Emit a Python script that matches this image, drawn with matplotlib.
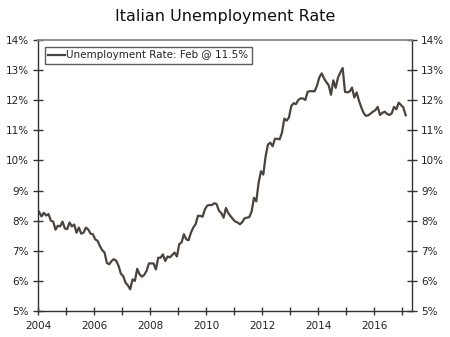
import numpy as np
import matplotlib
matplotlib.use("Agg")
import matplotlib.pyplot as plt
from matplotlib.ticker import MultipleLocator, FuncFormatter

# monthly unemployment rate, Jan 2004 .. Feb 2017 (%)
rate_2004 = [8.29, 8.14, 8.26, 8.17, 8.22, 8.00, 7.97, 7.70, 7.83, 7.81, 7.97, 7.74]
rate_2005 = [7.72, 7.94, 7.81, 7.87, 7.60, 7.77, 7.57, 7.60, 7.77, 7.71, 7.57, 7.55]
rate_2006 = [7.38, 7.33, 7.16, 7.02, 6.94, 6.60, 6.55, 6.66, 6.72, 6.67, 6.50, 6.24]
rate_2007 = [6.16, 5.94, 5.85, 5.72, 6.05, 6.00, 6.40, 6.22, 6.14, 6.20, 6.33, 6.58]
rate_2008 = [6.58, 6.58, 6.38, 6.77, 6.77, 6.88, 6.66, 6.81, 6.78, 6.86, 6.94, 6.81]
rate_2009 = [7.22, 7.28, 7.55, 7.38, 7.35, 7.60, 7.77, 7.88, 8.16, 8.16, 8.13, 8.38]
rate_2010 = [8.50, 8.52, 8.52, 8.58, 8.55, 8.33, 8.25, 8.10, 8.42, 8.25, 8.15, 8.05]
rate_2011 = [7.97, 7.94, 7.88, 7.95, 8.08, 8.10, 8.12, 8.30, 8.76, 8.64, 9.26, 9.64]
rate_2012 = [9.53, 10.14, 10.53, 10.59, 10.47, 10.72, 10.72, 10.70, 10.92, 11.39, 11.32, 11.43]
rate_2013 = [11.81, 11.90, 11.87, 12.01, 12.06, 12.06, 12.01, 12.28, 12.30, 12.30, 12.30, 12.48]
rate_2014 = [12.76, 12.89, 12.73, 12.60, 12.50, 12.18, 12.66, 12.41, 12.75, 12.92, 13.07, 12.28]
rate_2015 = [12.26, 12.29, 12.42, 12.09, 12.26, 11.98, 11.76, 11.57, 11.48, 11.50, 11.56, 11.62]
rate_2016 = [11.67, 11.78, 11.51, 11.58, 11.62, 11.55, 11.51, 11.56, 11.78, 11.70, 11.92, 11.84]
rate_2017 = [11.76, 11.5]

rate = (rate_2004 + rate_2005 + rate_2006 + rate_2007 + rate_2008 + rate_2009
        + rate_2010 + rate_2011 + rate_2012 + rate_2013 + rate_2014 + rate_2015
        + rate_2016 + rate_2017)
dates = 2004 + (np.arange(len(rate)) + 0.5) / 12.0

line_color = "#4b433d"
text_color = "#222222"

fig = plt.figure(figsize=(4.5, 3.37), dpi=100)
ax = fig.add_axes([38 / 450, 1 - 311 / 337, (412 - 38) / 450, (311 - 40) / 337])

ax.plot(dates, rate, color=line_color, lw=1.6,
        label="Unemployment Rate: Feb @ 11.5%")

ax.set_xlim(2004, 2017.35)
ax.set_ylim(5, 14)

ax.xaxis.set_major_locator(MultipleLocator(2))
ax.xaxis.set_minor_locator(MultipleLocator(1))
ax.yaxis.set_major_locator(MultipleLocator(1))
ax.yaxis.set_major_formatter(FuncFormatter(lambda v, p: "%d%%" % v))

ax.tick_params(axis="both", which="both", direction="inout", color="#333333",
               labelsize=7.5, labelcolor=text_color, width=1)
ax.tick_params(axis="y", length=7, pad=3, right=True, labelright=True)
ax.tick_params(axis="x", which="major", length=6, pad=4)
ax.tick_params(axis="x", which="minor", length=6)

for side in ["left", "right", "bottom"]:
    ax.spines[side].set_color("#333333")
    ax.spines[side].set_linewidth(1)
ax.spines["top"].set_color("#888888")
ax.spines["top"].set_linewidth(1.3)

leg = ax.legend(loc="upper left", bbox_to_anchor=(0.018, 0.975), fontsize=7.5,
                frameon=True, fancybox=False, handlelength=1.6, handletextpad=0.1,
                borderpad=0.35, borderaxespad=0)
leg.get_frame().set_edgecolor("#333333")
leg.get_frame().set_linewidth(1)
for t in leg.get_texts():
    t.set_color(text_color)

fig.text(0.5, 1 - 17 / 337, "Italian Unemployment Rate", ha="center", va="center",
         fontsize=11.5, color="#111111")

fig.savefig("out.png", dpi=100)
